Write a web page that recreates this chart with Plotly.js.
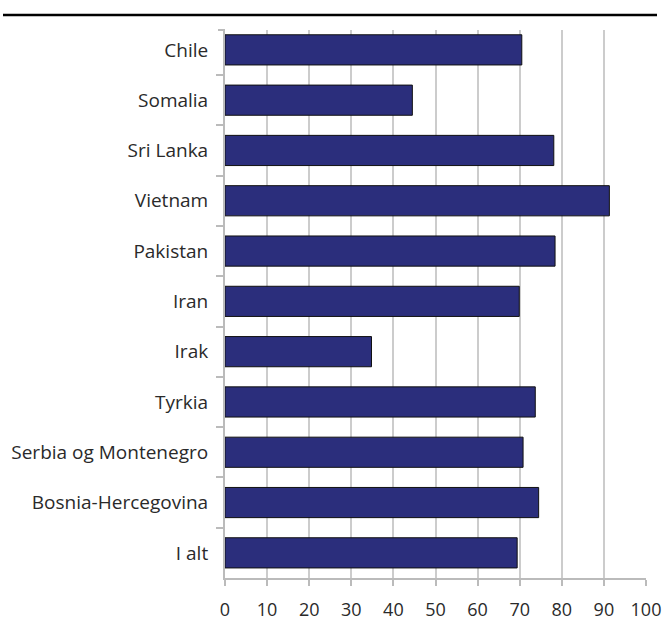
<!DOCTYPE html>
<html>
<head>
<meta charset="utf-8">
<script src="https://cdn.plot.ly/plotly-3.0.1.min.js"></script>
<style>html,body{margin:0;padding:0;background:#fff;}#chart{width:665px;height:621px;}</style>
</head>
<body>
<div id="chart"></div>
<script>
var categories = ["Chile", "Somalia", "Sri Lanka", "Vietnam", "Pakistan", "Iran", "Irak", "Tyrkia", "Serbia og Montenegro", "Bosnia-Hercegovina", "I alt"];
var values = [70.5, 44.5, 78.1, 91.3, 78.4, 69.9, 34.8, 73.7, 70.8, 74.5, 69.4];
var xTicks = [0, 10, 20, 30, 40, 50, 60, 70, 80, 90, 100];

var trace = {
  type: "bar",
  orientation: "h",
  x: values,
  y: categories,
  marker: {color: "#2B2E7C", line: {color: "#111111", width: 1}},
  hoverinfo: "x+y"
};

var layout = {
  width: 665, height: 621,
  margin: {l: 225, r: 19, t: 30, b: 43},
  paper_bgcolor: "#ffffff", plot_bgcolor: "#ffffff",
  showlegend: false,
  bargap: 0.4,
  font: {family: "Open Sans, Noto Sans, sans-serif", size: 19, color: "#2a2a2a"},
  xaxis: {
    range: [0, 100],
    tickvals: xTicks,
    ticktext: xTicks.map(String),
    showgrid: true, gridcolor: "#cccccc", gridwidth: 2,
    showline: true, linecolor: "#bbbbbb", linewidth: 2,
    ticks: "outside", ticklen: 6, tickcolor: "#bbbbbb", tickwidth: 2,
    ticklabelstandoff: 8,
    zeroline: false,
    tickfont: {size: 18, color: "#2a2a2a"},
    fixedrange: true
  },
  yaxis: {
    type: "category",
    range: [10.5, -0.395],
    tickson: "boundaries",
    showgrid: false,
    showline: true, linecolor: "#bbbbbb", linewidth: 2,
    ticks: "outside", ticklen: 7, tickcolor: "#bbbbbb", tickwidth: 2,
    ticklabelstandoff: 11,
    tickfont: {size: 19, color: "#2a2a2a"},
    fixedrange: true
  },
  shapes: [{
    type: "line", xref: "paper", yref: "paper",
    x0: -222/421, x1: 432/421, y0: 1 + 15/548, y1: 1 + 15/548,
    line: {color: "#000000", width: 2.5}
  }, {
    type: "line", xref: "paper", yref: "paper",
    x0: -7/421, x1: 0, y0: 1, y1: 1,
    line: {color: "#bbbbbb", width: 2}
  }]
};

Plotly.newPlot("chart", [trace], layout, {displayModeBar: false, staticPlot: true});
</script>
</body>
</html>
